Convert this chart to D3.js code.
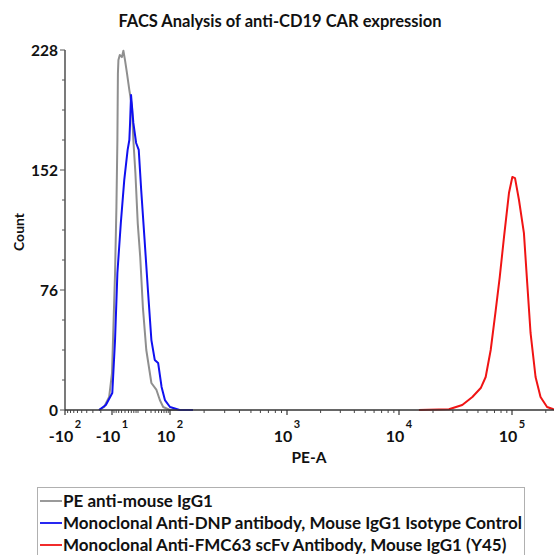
<!DOCTYPE html>
<html>
<head>
<meta charset="utf-8">
<script src="https://cdn.jsdelivr.net/npm/d3@7"></script>
<style>
  body { margin: 0; background: #fff; }
  text { font-family: Lato, "Open Sans", sans-serif; font-weight: bold; fill: #111; }
</style>
</head>
<body>
<script>
// values (PE-A intensity, event count)
var grayPE    = [-22, -16.6, -12.2, -10, -7, -5.8, -5, -4.6, -4.2, -3.2, -1.8, -0.9, 0, 1.1, 2.6, 4.5, 5.6, 7.4, 9.7, 12.5, 15.9, 21.1, 30.8, 43.5, 54, 66.5, 100, 140];
var grayCount = [0, 1.9, 8.2, 23.4, 86.8, 128.6, 171, 213, 221.6, 224.8, 223.5, 227.5, 221.6, 213.4, 202.6, 191.9, 171, 150.1, 118.4, 96.9, 65.2, 38, 17.1, 12.7, 6.3, 1.9, 0, 0];

var bluePE    = [-22, -15, -9.7, -7, -5, -2.5, -0.4, 1.5, 2.6, 3.1, 3.8, 5.6, 8.1, 10.8, 13.7, 18.4, 23.9, 30.8, 38.8, 48.4, 60.2, 73.9, 100, 122, 160];
var blueCount = [0, 3.2, 10.8, 44.3, 86.8, 118.4, 145.7, 164.7, 171, 181.8, 199.5, 181.8, 169.1, 164.7, 139.3, 107.7, 76, 44.3, 31.7, 29.8, 14.6, 6.3, 1.9, 0, 0];

var redPE    = [15000, 27700, 36300, 44600, 52900, 58500, 64800, 71800, 77900, 85000, 94000, 100700, 106400, 115400, 127700, 136600, 146300, 162100, 179500, 205300, 230700, 262144];
var redCount = [0, 0.5, 3.2, 8.2, 13.9, 20.9, 38, 63.3, 84.2, 109.6, 137.4, 147.6, 146.9, 133, 112, 80.4, 48.8, 20.9, 8.2, 1.9, 0.6, 0];

var yTickValues = [0, 76, 152, 228];
var xTickValues = [-100, -10, 100, 1000, 10000, 100000];
var xTickBase   = ["-10", "-10", "10", "10", "10", "10"];
var xTickExp    = ["2", "1", "2", "3", "4", "5"];

var seriesNames  = ["PE anti-mouse IgG1",
                    "Monoclonal Anti-DNP antibody, Mouse IgG1 Isotype Control",
                    "Monoclonal Anti-FMC63 scFv Antibody, Mouse IgG1 (Y45)"];
var seriesColors = ["#8f8f8f", "#1010f0", "#f01414"];

var svgWidth = 554;
var svgHeight = 555;

var margin = { top: 50, right: 0, bottom: 145, left: 65 };
var chartHeight = svgHeight - margin.top - margin.bottom;   // 360

var svg = d3.select("body")
    .append("svg")
    .attr("width", svgWidth)
    .attr("height", svgHeight);

// biexponential-like axis: symlog transform, then piecewise linear onto pixel knots
var xKnots   = [-100, -10, 100, 1000, 10000, 100000, 262144];
var xKnotPx  = [65, 112, 170, 287, 399, 512, 559];
var symlog = d3.scaleSymlog().constant(10).domain([-100, 262144]).range([0, 1]);
var xPx = d3.scaleLinear().domain(xKnots.map(symlog)).range(xKnotPx);
var xScale = function(v) { return xPx(symlog(v)); };

var yScale = d3.scaleLinear()
    .domain([0, 228])
    .range([margin.top + chartHeight, margin.top]);

var axisY0 = yScale(0);

// title
svg.append("text")
    .attr("x", 280)
    .attr("y", 27)
    .attr("text-anchor", "middle")
    .attr("font-size", "16.5px")
    .text("FACS Analysis of anti-CD19 CAR expression");

// clip
svg.append("clipPath").attr("id", "plotClip")
    .append("rect")
    .attr("x", 65).attr("y", 30)
    .attr("width", svgWidth - 65).attr("height", axisY0 - 30 + 1);

// curves
var allSeries = [
    { pe: grayPE, count: grayCount, color: seriesColors[0] },
    { pe: bluePE, count: blueCount, color: seriesColors[1] },
    { pe: redPE,  count: redCount,  color: seriesColors[2] }
];

var line = d3.line()
    .x(function(d) { return xScale(d[0]); })
    .y(function(d) { return yScale(d[1]); });

var plot = svg.append("g").attr("clip-path", "url(#plotClip)");
allSeries.forEach(function(s) {
    plot.append("path")
        .datum(d3.zip(s.pe, s.count))
        .attr("fill", "none")
        .attr("stroke", s.color)
        .attr("stroke-width", 2)
        .attr("stroke-linejoin", "round")
        .attr("d", line);
});

// y axis
var yAxisG = svg.append("g");
yAxisG.append("line")
    .attr("x1", 65).attr("x2", 65)
    .attr("y1", yScale(228)).attr("y2", axisY0)
    .attr("stroke", "#333").attr("stroke-width", 1.3);
d3.range(0, 229, 19).forEach(function(v) {
    var major = v % 76 === 0;
    yAxisG.append("line")
        .attr("x1", major ? 60 : 62).attr("x2", 65)
        .attr("y1", yScale(v)).attr("y2", yScale(v))
        .attr("stroke", "#555").attr("stroke-width", 1);
});
yAxisG.selectAll("text.ytick")
    .data(yTickValues)
    .enter()
    .append("text")
    .attr("class", "ytick")
    .attr("x", 58)
    .attr("y", function(d) { return yScale(d) + 5.5; })
    .attr("text-anchor", "end")
    .attr("font-size", "15.5px")
    .text(function(d) { return d; });

svg.append("text")
    .attr("transform", "translate(24, 232) rotate(-90)")
    .attr("text-anchor", "middle")
    .attr("font-size", "14px")
    .text("Count");

// x axis
var xAxisG = svg.append("g");
xAxisG.append("line")
    .attr("x1", 65).attr("x2", svgWidth)
    .attr("y1", axisY0).attr("y2", axisY0)
    .attr("stroke", "#333").attr("stroke-width", 1.3);

var minorTicks = [];
[10, 100, 1000, 10000, 100000].forEach(function(dec) {
    d3.range(2, 10).forEach(function(m) {
        if (dec * m <= 262144) minorTicks.push(dec * m);
        if (dec * m <= 100) minorTicks.push(-dec * m);
    });
});
[-8, -6, -4, -2, 0, 2, 4, 6, 8, 10].forEach(function(v) { minorTicks.push(v); });

xAxisG.selectAll("line.minor")
    .data(minorTicks)
    .enter()
    .append("line")
    .attr("class", "minor")
    .attr("x1", function(d) { return xScale(d); })
    .attr("x2", function(d) { return xScale(d); })
    .attr("y1", axisY0).attr("y2", axisY0 + 3)
    .attr("stroke", "#444").attr("stroke-width", 1);

xAxisG.selectAll("line.major")
    .data(xTickValues)
    .enter()
    .append("line")
    .attr("class", "major")
    .attr("x1", function(d) { return xScale(d); })
    .attr("x2", function(d) { return xScale(d); })
    .attr("y1", axisY0).attr("y2", axisY0 + 5)
    .attr("stroke", "#333").attr("stroke-width", 1.2);

var xLabels = xAxisG.selectAll("g.xlabel")
    .data(xTickValues)
    .enter()
    .append("g")
    .attr("class", "xlabel")
    .attr("transform", function(d) { return "translate(" + xScale(d) + ",0)"; });

xLabels.append("text")
    .attr("y", 442)
    .attr("text-anchor", "middle")
    .attr("font-size", "16px")
    .each(function(d, i) {
        var t = d3.select(this);
        t.append("tspan").text(xTickBase[i]);
        t.append("tspan")
            .attr("dx", 1.5)
            .attr("dy", -14)
            .attr("font-size", "11px")
            .text(xTickExp[i]);
    });

svg.append("text")
    .attr("x", 309)
    .attr("y", 463)
    .attr("text-anchor", "middle")
    .attr("font-size", "15.5px")
    .text("PE-A");

// legend
var legend = svg.append("g");
legend.append("rect")
    .attr("x", 37.5).attr("y", 487.5)
    .attr("width", 487).attr("height", 80)
    .attr("fill", "none")
    .attr("stroke", "#b0b0b0")
    .attr("stroke-width", 1);

var rows = legend.selectAll("g.row")
    .data(seriesNames)
    .enter()
    .append("g")
    .attr("class", "row")
    .attr("transform", function(d, i) { return "translate(0," + (501 + i * 22) + ")"; });

rows.append("line")
    .attr("x1", 40).attr("x2", 62)
    .attr("y1", 0).attr("y2", 0)
    .attr("stroke", function(d, i) { return seriesColors[i]; })
    .attr("stroke-width", 1.8);

rows.append("text")
    .attr("x", 63)
    .attr("y", 5.5)
    .attr("font-size", "17px")
    .text(function(d) { return d; });
</script>
</body>
</html>
